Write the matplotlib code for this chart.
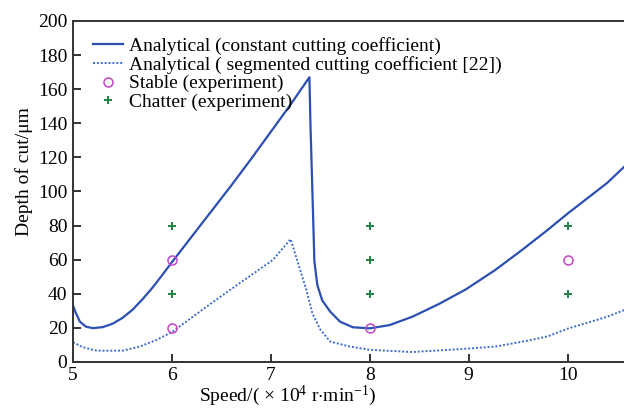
import matplotlib
matplotlib.use("Agg")
import matplotlib.pyplot as plt

plt.rcParams['font.family'] = ['Liberation Serif', 'DejaVu Serif']
plt.rcParams['mathtext.fontset'] = 'custom'
plt.rcParams['mathtext.rm'] = 'Liberation Serif'
plt.rcParams['mathtext.it'] = 'Liberation Serif:italic'

# Analytical (constant cutting coefficient)
const_x = [5.0, 5.03, 5.07, 5.13, 5.2, 5.3, 5.4, 5.5, 5.6, 5.7, 5.8, 5.9, 6.0, 6.2, 6.4,
           6.6, 6.8, 7.0, 7.2, 7.39, 7.40, 7.42, 7.44, 7.47, 7.52, 7.6, 7.7, 7.83,
           8.0, 8.2, 8.43, 8.7, 8.97, 9.27, 9.54, 9.8, 10.0, 10.2, 10.4, 10.6]
const_y = [33, 28.5, 23.6, 20.7, 19.8, 20.4, 22.4, 25.8, 30.5, 36.6, 43.3, 50.8, 58.5, 73.5, 88.5,
           103.5, 119, 135, 151, 167, 140, 100, 59, 45, 36, 29.5, 23.6, 20.3,
           19.7, 21.6, 26.5, 34, 42.5, 54, 65.7, 77.5, 87, 96, 105, 116]

# Analytical (segmented cutting coefficient [22])
seg_x = [5.0, 5.1, 5.24, 5.5, 5.67, 5.84, 6.0, 6.35, 6.68, 7.02, 7.2, 7.36, 7.42,
         7.5, 7.6, 7.8, 8.0, 8.43, 8.94, 9.27, 9.6, 9.8, 10.0, 10.2, 10.4, 10.6]
seg_y = [11.5, 8.6, 6.6, 6.6, 8.9, 12.8, 17.5, 32.4, 46, 59.8, 72, 42, 28.5,
         19, 11.9, 9, 7.1, 5.8, 7.6, 9, 12.5, 15, 19.5, 23, 26.5, 31]

stable_x = [6, 6, 8, 10]
stable_y = [20, 60, 20, 60]
chatter_x = [6, 6, 8, 8, 8, 10, 10]
chatter_y = [40, 80, 40, 60, 80, 40, 80]

xticks = [5, 6, 7, 8, 9, 10]
yticks = [0, 20, 40, 60, 80, 100, 120, 140, 160, 180, 200]

fig = plt.figure(figsize=(6.24, 4.16), dpi=100)
ax = fig.add_axes([0.117, 0.130, 0.883, 0.8197])

ax.plot(const_x, const_y, color='#2b4fb3', lw=1.6,
        label='Analytical (constant cutting coefficient)')
ax.plot(seg_x, seg_y, color='#3d6ad6', lw=1.4, ls=(0, (1, 1)),
        label='Analytical ( segmented cutting coefficient [22])')
ax.plot(stable_x, stable_y, ls='none', marker='o', ms=6.5, mfc='none',
        mec='#c445c4', mew=1.1, label='Stable (experiment)')
ax.plot(chatter_x, chatter_y, ls='none', marker='+', ms=6, mec='#1e8444',
        mew=1.4, label='Chatter (experiment)')

ax.set_xlim(5, 10.57)
ax.set_ylim(0, 200)
ax.set_xticks(xticks)
ax.set_yticks(yticks)
ax.tick_params(direction='in', length=6, width=1.3, labelsize=14, pad=4,
               colors='#222222', labelcolor='black')
ax.spines['right'].set_visible(False)
for s in ['left', 'bottom', 'top']:
    ax.spines[s].set_linewidth(1.4)
    ax.spines[s].set_color('#333333')

ax.set_xlabel(r'Speed/( $\times$ 10$^{4}$ r$\cdot$min$^{-1}$)', fontsize=14)
ax.xaxis.set_label_coords(0.39, -0.065)
ax.set_ylabel('Depth of cut/μm', fontsize=14)
ax.yaxis.set_label_coords(-0.073, 0.557)

leg = ax.legend(loc='upper left', bbox_to_anchor=(0.036, 0.952), frameon=False,
                fontsize=14, labelspacing=0.04, handlelength=1.55, handletextpad=0.3,
                borderpad=0.0, borderaxespad=0.0)

fig.savefig('out.png', dpi=100)
